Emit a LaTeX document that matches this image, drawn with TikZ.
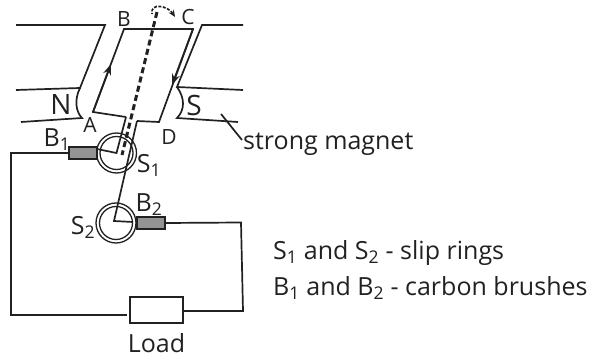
\documentclass[tikz,border=0pt]{standalone}
\usepackage{fontspec}
\setmainfont{Open Sans}
\usepackage{xcolor}
\usetikzlibrary{arrows.meta}
\definecolor{brushgray}{gray}{0.58}
\definecolor{inkdark}{gray}{0.13}
\tikzset{
  wire/.style={line width=1.7pt,inkdark},
  brushbox/.style={draw=inkdark,line width=1.7pt,fill=brushgray,minimum width=28pt,minimum height=12pt,inner sep=0pt},
  loadbox/.style={draw=inkdark,line width=1.7pt,fill=white,minimum width=53pt,minimum height=26pt,inner sep=0pt},
  lab/.style={text=inkdark,font=\fontsize{25}{28}\selectfont,inner sep=0pt},
  smalllab/.style={text=inkdark,font=\fontsize{21}{24}\selectfont,inner sep=0pt},
  polelab/.style={text=inkdark,font=\fontsize{28}{30}\selectfont,inner sep=0pt},
  ringout/.style={circle,draw=inkdark,line width=1.3pt,minimum size=40pt,inner sep=0pt},
  ringin/.style={circle,draw=inkdark,line width=1.3pt,minimum size=33pt,inner sep=0pt}
}
\begin{document}
\begin{tikzpicture}[x=1pt,y=-1pt,>={Stealth[length=11pt,width=8pt]}]
\useasboundingbox (0,0) rectangle (591,358);
% --- magnet ---
\draw[wire] (16,25) -- (105,25) -- (80,88) -- (16,90);
\draw[wire] (80,88) .. controls (74,100) and (76,112) .. (82,118) -- (21,122);
\draw[wire] (243,25) -- (202,25) -- (177,87) -- (243,90);
\draw[wire] (177,87) .. controls (185,98) and (185,110) .. (177,118) -- (238,122);
\node[smalllab] (labB) at (124,19) {B};
\node[smalllab] (labC) at (188,17) {C};
\node[smalllab] (labA) at (90,125) {A};
\node[smalllab] (labD) at (169,137) {D};
\node[polelab] (labN) at (61,105) {N};
\node[polelab] (labS) at (194,106) {S};
% --- coil ---
\draw[wire] (126,117) -- (93,112) -- (124,29) -- (193,29) -- (159,122) -- (137,121);
\draw[wire,->] (93,112) -- (111,64);
\draw[wire,->] (193,29) -- (172,85);
% --- rings ---
\node[ringout] (ringA) at (116.5,153) {};
\node[ringin] (ringAin) at (116.5,153) {};
\node[ringout] (ringB) at (116,223) {};
\node[ringin] (ringBin) at (116,223) {};
\coordinate (centerA) at (116.5,153);
\coordinate (centerB) at (114,221);
\draw[wire] (126,117) -- (centerA) -- (97,149);
\draw[wire] (137,121) -- (centerB) -- (133,222);
% --- axis and rotation ---
\draw[inkdark,line width=3pt,dash pattern=on 6pt off 3.5pt] (157,12) -- (122,155);
\draw[wire,<-,>={Stealth[length=7pt,width=6pt]},dash pattern=on 3pt off 1.5pt,line width=1.7pt] (175,17) .. controls (168,6) and (150,2) .. (152,14);
% --- brushes, load, circuit ---
\node[brushbox] (brushA) at (83,153) {};
\node[brushbox] (brushB) at (151,223) {};
\node[loadbox] (load) at (156.5,310) {};
\coordinate (cornerA) at (11,153);
\coordinate (cornerB) at (11,315);
\coordinate (cornerC) at (241,222.5);
\coordinate (cornerD) at (243,311);
\draw[wire] (brushA.west) -- (cornerA) -- (cornerB) -- (127,315);
\draw[wire] (brushB.east) -- (cornerC) -- (cornerD) -- (load.east |- cornerD);
\node[lab] (labBa) at (57,140) {B\textsubscript{1}};
\node[lab] (labSa) at (149,165) {S\textsubscript{1}};
\node[lab] (labBb) at (149,205) {B\textsubscript{2}};
\node[lab] (labSb) at (83,227) {S\textsubscript{2}};
\node[lab] (labLoad) at (156.5,343) {Load};
% --- notes ---
\coordinate (tickA) at (221,114);
\coordinate (tickB) at (242,140);
\draw[wire] (tickA) -- (tickB);
\node[lab,anchor=west] (labMagnet) at (243,144) {strong magnet};
\node[lab,anchor=west] (labRings) at (273,253) {S\textsubscript{1} and S\textsubscript{2} - slip rings};
\node[lab,anchor=west] (labBrushes) at (273,288) {B\textsubscript{1} and B\textsubscript{2} - carbon brushes};
\end{tikzpicture}
\end{document}
